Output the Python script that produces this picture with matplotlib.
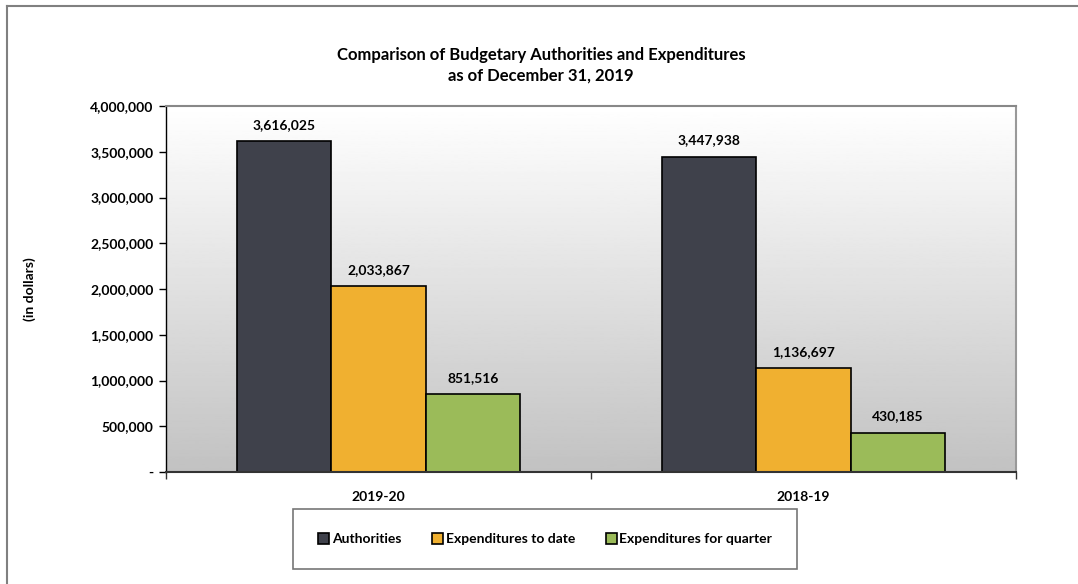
import numpy as np
import matplotlib
matplotlib.use("Agg")
import matplotlib.pyplot as plt
from matplotlib.lines import Line2D
from matplotlib.ticker import FuncFormatter, MultipleLocator

plt.rcParams['font.family'] = ['Lato', 'DejaVu Sans']
plt.rcParams['font.weight'] = 'bold'

# Data
years = ['2019-20', '2018-19']
series_names = ['Authorities', 'Expenditures to date', 'Expenditures for quarter']
authorities = [3616025, 3447938]
exp_to_date = [2033867, 1136697]
exp_quarter = [851516, 430185]
colors = ['#3f414b', '#f0b030', '#9bbb59']

fig = plt.figure(figsize=(10.78, 5.84), dpi=100)
ax = fig.add_axes([166 / 1078, 1 - 472 / 584, 850 / 1078, 366 / 584])

# gradient background of the plot area
grad = np.linspace(1.0, 0.76, 256).reshape(-1, 1)
ax.imshow(grad, extent=[0, 1, 0, 1], transform=ax.transAxes, cmap='gray',
          vmin=0, vmax=1, aspect='auto', zorder=0)

x = np.arange(len(years))
width = 1 / 4.5
all_series = [authorities, exp_to_date, exp_quarter]
for i, (vals, name, c) in enumerate(zip(all_series, series_names, colors)):
    pos = x + (i - 1) * width
    ax.bar(pos, vals, width=width, color=c, edgecolor='black', linewidth=1.2,
           label=name, zorder=2)
    for p, v in zip(pos, vals):
        ax.text(p, v + 110000, f"{v:,}", ha='center', va='bottom',
                fontsize=10, fontweight='bold', zorder=3)

ax.set_xlim(-0.5, 1.5)
ax.set_ylim(0, 4000000)
ax.yaxis.set_major_locator(MultipleLocator(500000))
ax.yaxis.set_major_formatter(FuncFormatter(lambda v, p: '-' if v == 0 else f"{int(v):,}"))
ax.set_xticks(x)
ax.set_xticklabels(years)
ax.set_xticks([-0.5, 0.5, 1.5], minor=True)
ax.tick_params(axis='x', which='major', length=0, pad=14, labelsize=10)
ax.tick_params(axis='x', which='minor', length=5, width=1, direction='out', color='#333333')
ax.tick_params(axis='y', length=5, width=1, direction='out', labelsize=10, pad=4)
for lab in ax.get_xticklabels() + ax.get_yticklabels():
    lab.set_fontweight('bold')

ax.spines['left'].set_color('black')
ax.spines['left'].set_linewidth(1)
ax.spines['bottom'].set_color('#333333')
ax.spines['bottom'].set_linewidth(1.5)
ax.spines['top'].set_color('#888888')
ax.spines['top'].set_linewidth(1.5)
ax.spines['right'].set_color('#999999')
ax.spines['right'].set_linewidth(1.5)

ax.set_ylabel('(in dollars)', fontsize=10, fontweight='bold')
ax.yaxis.set_label_coords(-0.153, 0.5)

fig.text(541 / 1078, 1 - 55 / 584, 'Comparison of Budgetary Authorities and Expenditures',
         ha='center', va='center', fontsize=12, fontweight='bold')
fig.text(541 / 1078, 1 - 76 / 584, 'as of December 31, 2019',
         ha='center', va='center', fontsize=12, fontweight='bold')

leg = fig.legend(loc='center', bbox_to_anchor=(545 / 1078, 1 - 539 / 584), ncol=3,
                 frameon=True, fancybox=False, edgecolor='#555555', fontsize=10,
                 handlelength=0.8, handleheight=0.8, handletextpad=0.2,
                 columnspacing=2.2, borderpad=1.75, borderaxespad=0)
leg.get_frame().set_linewidth(1.2)
for t in leg.get_texts():
    t.set_fontweight('bold')
for h in leg.legend_handles:
    h.set_linewidth(1.2)

# outer chart border (top and left only)
fig.add_artist(Line2D([7 / 1078, 1], [1 - 6 / 584, 1 - 6 / 584], color='#808080', lw=1.5,
                      transform=fig.transFigure))
fig.add_artist(Line2D([7 / 1078, 7 / 1078], [0, 1 - 6 / 584], color='#808080', lw=1.5,
                      transform=fig.transFigure))

fig.savefig('out.png', dpi=100)
